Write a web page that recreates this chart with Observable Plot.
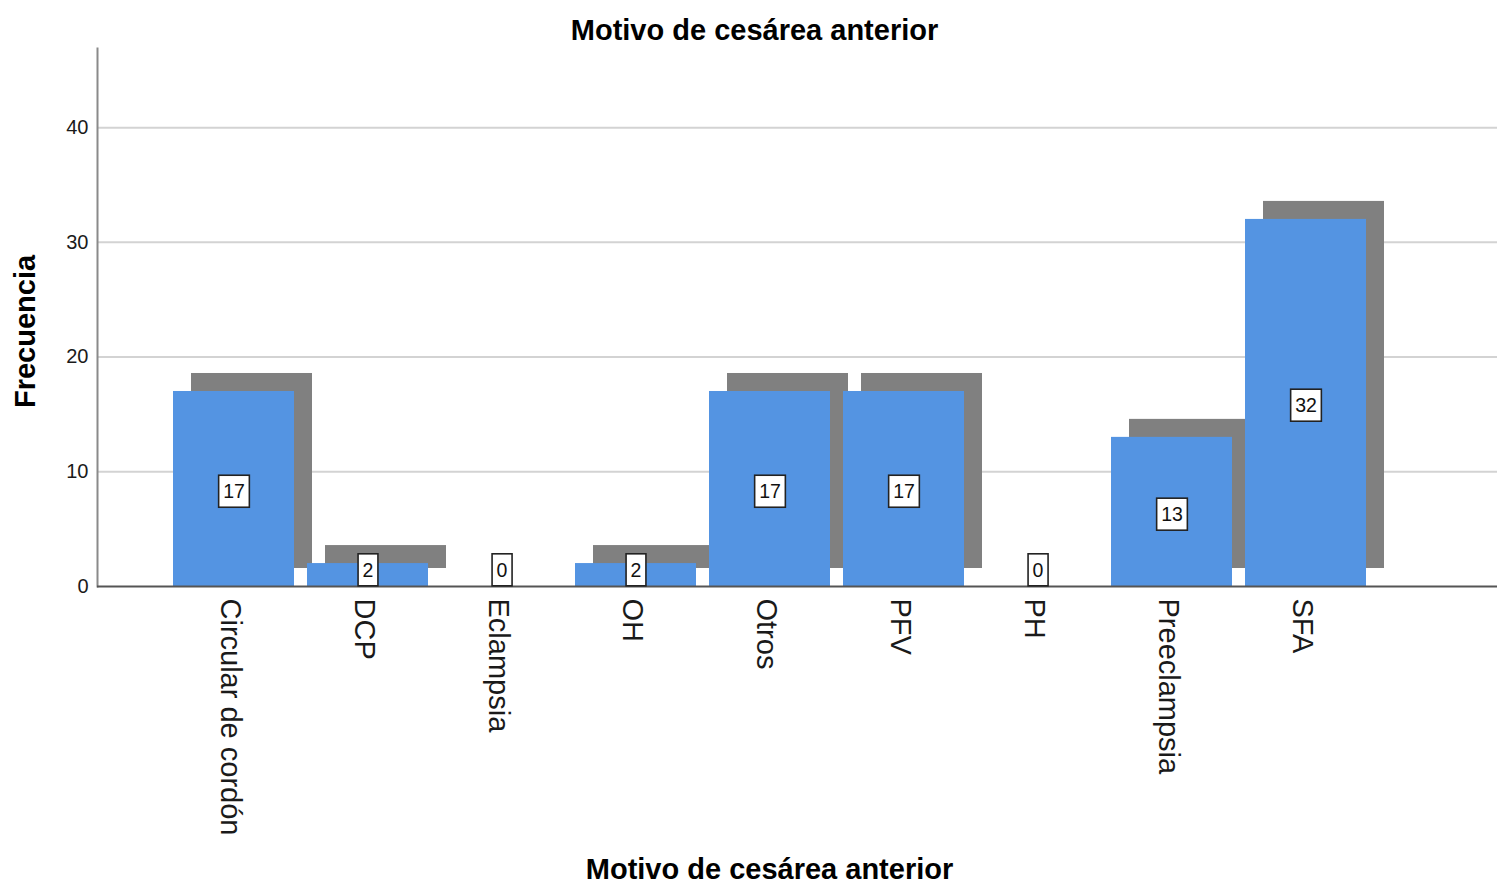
<!DOCTYPE html>
<html>
<head>
<meta charset="utf-8">
<script src="https://cdn.jsdelivr.net/npm/d3@7"></script>
<script src="https://cdn.jsdelivr.net/npm/@observablehq/plot@0.6"></script>
<style>
  html, body { margin: 0; padding: 0; background: #fff; }
  #chart svg { display: block; }
</style>
</head>
<body>
<div id="chart"></div>
<script>
// Frequency of each reason for a previous caesarean section
const motivos = ["Circular de cordón", "DCP", "Eclampsia", "OH", "Otros", "PFV", "PH", "Preeclampsia", "SFA"];
const frecuencias = [17, 2, 0, 2, 17, 17, 0, 13, 32];
const yTicks = [0, 10, 20, 30, 40];
const gridTicks = [10, 20, 30, 40];

const titulo = "Motivo de cesárea anterior";
const tituloX = "Motivo de cesárea anterior";
const tituloY = "Frecuencia";

const rows = motivos.map((m, i) => ({motivo: m, n: frecuencias[i]}));

const font = "'Liberation Sans', Arial, Helvetica, sans-serif";

const chart = Plot.plot({
  width: 1497,
  height: 885,
  marginTop: 48,
  marginBottom: 299,
  marginLeft: 97,
  marginRight: 0,
  style: {fontFamily: font, background: "#fff", color: "#1a1a1a"},
  x: {type: "band", domain: motivos, paddingInner: 0.1, paddingOuter: 0.758, align: 0.366},
  y: {domain: [0, 46.9]},
  marks: [
    Plot.ruleY(gridTicks, {stroke: "#d3d3d3", strokeWidth: 2}),
    Plot.frame({anchor: "left", stroke: "#8a8a8a", strokeWidth: 2}),
    // drop shadow behind each bar
    Plot.barY(rows, {x: "motivo", y: "n", fill: "#808080", dx: 18, dy: -18}),
    Plot.barY(rows, {x: "motivo", y: "n", fill: "#5494e2"}),
    Plot.ruleY([0], {stroke: "#555", strokeWidth: 2}),
    Plot.axisY({ticks: yTicks, tickSize: 0, tickPadding: 9, fontSize: 20, label: null, fill: "#1a1a1a"}),
    Plot.axisX({tickRotate: 90, tickSize: 0, tickPadding: 12, dx: -4, fontSize: 29, label: null, fill: "#1a1a1a"}),
    // boxed value labels
    Plot.text(rows, {
      x: "motivo",
      y: d => Math.max(d.n / 2, 1.65),
      text: d => String(d.n),
      dy: 3,
      fontSize: 19.5,
      fill: "#111",
      className: "val-label"
    }),
    Plot.text([titulo], {frameAnchor: "top", lineAnchor: "middle", dx: -43, dy: -18, fontSize: 29, fontWeight: "bold", fill: "#000"}),
    Plot.text([tituloX], {frameAnchor: "bottom", lineAnchor: "middle", dx: -28, dy: 283, fontSize: 29, fontWeight: "bold", fill: "#000"}),
    Plot.text([tituloY], {frameAnchor: "left", textAnchor: "middle", lineAnchor: "middle", rotate: -90, dx: -72, dy: 14, fontSize: 29, fontWeight: "bold", fill: "#000"})
  ]
});

document.getElementById("chart").appendChild(chart);

// white boxes with a dark border behind the value labels
d3.select(chart).selectAll("g.val-label text").each(function() {
  const b = this.getBBox();
  const padX = 4.5, h = 32;
  const cy = b.y + b.height / 2;
  const rect = document.createElementNS("http://www.w3.org/2000/svg", "rect");
  rect.setAttribute("x", b.x - padX);
  rect.setAttribute("y", cy - h / 2);
  rect.setAttribute("width", b.width + 2 * padX);
  rect.setAttribute("height", h);
  rect.setAttribute("fill", "#fff");
  rect.setAttribute("stroke", "#222");
  rect.setAttribute("stroke-width", 1.6);
  const t = this.getAttribute("transform");
  if (t) rect.setAttribute("transform", t);
  this.parentNode.insertBefore(rect, this);
});
</script>
</body>
</html>
